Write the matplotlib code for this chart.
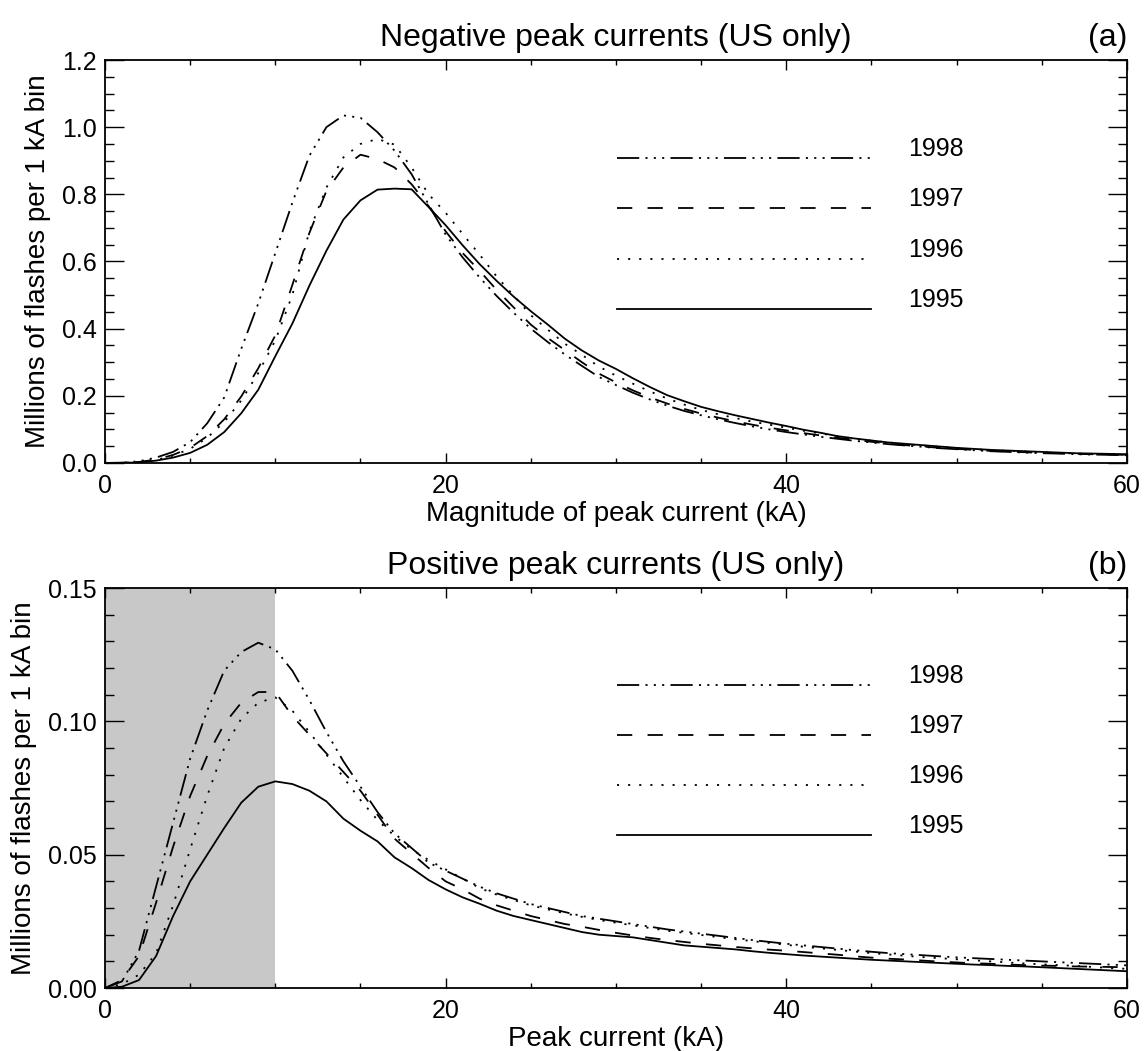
import matplotlib
matplotlib.use("Agg")
import matplotlib.pyplot as plt
import numpy as np

plt.rcParams['font.family'] = ['Liberation Sans', 'DejaVu Sans']
plt.rcParams['lines.scale_dashes'] = False

kA = np.arange(0, 61)
years = ['1998', '1997', '1996', '1995']

# negative peak currents, millions of flashes per 1 kA bin
neg_1995 = [0, 0, 0.002, 0.007, 0.016, 0.030, 0.054, 0.092, 0.148, 0.218,
            0.318, 0.415, 0.528, 0.632, 0.725, 0.782, 0.814, 0.817, 0.815, 0.762,
            0.708, 0.648, 0.592, 0.542, 0.495, 0.452, 0.412, 0.370, 0.335, 0.305,
            0.280, 0.252, 0.226, 0.202, 0.184, 0.167, 0.154, 0.142, 0.131, 0.120,
            0.110, 0.099, 0.090, 0.080, 0.073, 0.067, 0.061, 0.057, 0.053, 0.049,
            0.045, 0.042, 0.039, 0.037, 0.035, 0.033, 0.031, 0.029, 0.028, 0.027,
            0.026]
neg_1996 = [0, 0, 0.003, 0.009, 0.022, 0.042, 0.075, 0.122, 0.186, 0.268,
            0.365, 0.500, 0.690, 0.820, 0.910, 0.950, 0.965, 0.948, 0.880, 0.800,
            0.745, 0.682, 0.620, 0.555, 0.498, 0.440, 0.397, 0.355, 0.322, 0.287,
            0.260, 0.236, 0.213, 0.192, 0.174, 0.158, 0.145, 0.134, 0.123, 0.114,
            0.105, 0.096, 0.088, 0.080, 0.072, 0.066, 0.061, 0.056, 0.052, 0.048,
            0.044, 0.041, 0.038, 0.036, 0.034, 0.032, 0.030, 0.028, 0.027, 0.026,
            0.025]
neg_1997 = [0, 0, 0.003, 0.010, 0.024, 0.045, 0.080, 0.130, 0.198, 0.282,
            0.380, 0.530, 0.685, 0.810, 0.880, 0.918, 0.905, 0.880, 0.830, 0.765,
            0.690, 0.625, 0.572, 0.515, 0.463, 0.412, 0.372, 0.336, 0.300, 0.266,
            0.240, 0.216, 0.195, 0.177, 0.161, 0.147, 0.135, 0.124, 0.114, 0.105,
            0.097, 0.089, 0.082, 0.075, 0.069, 0.063, 0.058, 0.053, 0.049, 0.045,
            0.042, 0.039, 0.036, 0.034, 0.032, 0.030, 0.029, 0.027, 0.026, 0.025,
            0.024]
neg_1998 = [0, 0.001, 0.005, 0.016, 0.033, 0.062, 0.118, 0.195, 0.340, 0.475,
            0.625, 0.775, 0.915, 1.000, 1.035, 1.028, 0.985, 0.930, 0.860, 0.770,
            0.680, 0.612, 0.552, 0.497, 0.447, 0.400, 0.360, 0.323, 0.289, 0.256,
            0.232, 0.209, 0.189, 0.171, 0.155, 0.142, 0.130, 0.119, 0.109, 0.100,
            0.092, 0.085, 0.078, 0.072, 0.066, 0.061, 0.056, 0.052, 0.048, 0.044,
            0.041, 0.038, 0.035, 0.033, 0.031, 0.029, 0.028, 0.026, 0.025, 0.024,
            0.023]

# positive peak currents
pos_1995 = [0, 0.0005, 0.003, 0.012, 0.027, 0.040, 0.050, 0.060, 0.0695, 0.0755,
            0.0775, 0.0765, 0.074, 0.070, 0.0635, 0.059, 0.055, 0.049, 0.045, 0.0405,
            0.037, 0.034, 0.0316, 0.029, 0.027, 0.0255, 0.024, 0.0225, 0.021, 0.020,
            0.0195, 0.019, 0.018, 0.017, 0.016, 0.0155, 0.015, 0.0145, 0.0138, 0.0132,
            0.0127, 0.0122, 0.0118, 0.0114, 0.011, 0.0106, 0.0103, 0.010, 0.0097, 0.0094,
            0.0091, 0.0088, 0.0086, 0.0083, 0.0081, 0.0078, 0.0075, 0.0072, 0.0069, 0.0066,
            0.0063]
pos_1996 = [0, 0.0015, 0.005, 0.013, 0.031, 0.052, 0.072, 0.090, 0.101, 0.107,
            0.109, 0.104, 0.096, 0.0875, 0.079, 0.0705, 0.063, 0.057, 0.052, 0.048,
            0.0445, 0.041, 0.0375, 0.035, 0.033, 0.031, 0.0295, 0.028, 0.0267, 0.0255,
            0.0245, 0.0235, 0.0225, 0.0215, 0.0207, 0.0199, 0.0191, 0.0183, 0.0176, 0.0169,
            0.0162, 0.0155, 0.0149, 0.0143, 0.0137, 0.0131, 0.0126, 0.0121, 0.0116, 0.0112,
            0.0108, 0.0104, 0.0100, 0.0096, 0.0092, 0.0089, 0.0086, 0.0083, 0.0079, 0.0075,
            0.0072]
pos_1997 = [0, 0.003, 0.012, 0.032, 0.053, 0.072, 0.087, 0.099, 0.107, 0.111,
            0.111, 0.102, 0.095, 0.088, 0.081, 0.074, 0.065, 0.056, 0.0505, 0.045,
            0.040, 0.037, 0.0335, 0.031, 0.029, 0.027, 0.0255, 0.024, 0.023, 0.0218,
            0.0207, 0.0197, 0.0188, 0.018, 0.0173, 0.0166, 0.016, 0.0154, 0.0149, 0.0144,
            0.014, 0.0135, 0.013, 0.0125, 0.0119, 0.0114, 0.011, 0.0107, 0.0103, 0.0099,
            0.0096, 0.0093, 0.0091, 0.0088, 0.0086, 0.0084, 0.0083, 0.0081, 0.008, 0.0079,
            0.0078]
pos_1998 = [0, 0.0025, 0.014, 0.038, 0.062, 0.086, 0.104, 0.119, 0.126, 0.1295,
            0.127, 0.119, 0.108, 0.096, 0.085, 0.0755, 0.066, 0.058, 0.0525, 0.047,
            0.044, 0.041, 0.038, 0.0355, 0.0335, 0.0315, 0.030, 0.0285, 0.027, 0.026,
            0.025, 0.024, 0.023, 0.022, 0.0212, 0.0204, 0.0196, 0.0188, 0.018, 0.0173,
            0.0166, 0.016, 0.0154, 0.0148, 0.0142, 0.0136, 0.0131, 0.0127, 0.0123, 0.0119,
            0.0115, 0.0112, 0.0109, 0.0106, 0.0103, 0.010, 0.0097, 0.0094, 0.0091, 0.0088,
            0.0085]

dash_styles = {
    '1998': (0, (16, 4.5, 1.5, 4.5, 1.5, 4.5, 1.5, 4.5)),
    '1997': (0, (11, 11)),
    '1996': (0, (1.5, 6.5)),
    '1995': 'solid',
}

fig = plt.figure(figsize=(11.46, 10.51), dpi=100)
ax1 = fig.add_axes([0.0916, 0.5595, 0.8918, 0.3834])
ax2 = fig.add_axes([0.0916, 0.0599, 0.8918, 0.3806])

ax2.axvspan(0, 10, color='#c8c8c8', lw=0, zorder=0)

neg = {'1995': neg_1995, '1996': neg_1996, '1997': neg_1997, '1998': neg_1998}
pos = {'1995': pos_1995, '1996': pos_1996, '1997': pos_1997, '1998': pos_1998}

for ax, data in [(ax1, neg), (ax2, pos)]:
    for yr in years:
        ax.plot(kA, data[yr], color='black', lw=1.3, linestyle=dash_styles[yr])
    # legend drawn IDL style
    for i, yr in enumerate(years):
        yy = 0.757 - i * 0.125
        ax.plot([0.501, 0.750], [yy, yy], transform=ax.transAxes,
                color='black', lw=1.3, linestyle=dash_styles[yr])
        ax.text(0.786, yy + 0.022, yr, transform=ax.transAxes,
                fontsize=18, va='center', ha='left')

ax1.set_xlim(0, 60)
ax1.set_ylim(0, 1.2)
ax1.set_xticks([0, 20, 40, 60])
ax1.set_xticks(np.arange(0, 61, 5), minor=True)
ax1.set_yticks(np.arange(0, 1.21, 0.2))
ax1.set_yticks(np.arange(0, 1.21, 0.05), minor=True)
ax1.set_yticklabels(['0.0', '0.2', '0.4', '0.6', '0.8', '1.0', '1.2'])
ax1.set_xlabel('Magnitude of peak current (kA)', fontsize=20, labelpad=2)
ax1.set_title('Negative peak currents (US only)', fontsize=23, pad=10)
ax1.set_title('(a)', fontsize=23, pad=10, loc='right')

ax2.set_xlim(0, 60)
ax2.set_ylim(0, 0.15)
ax2.set_xticks([0, 20, 40, 60])
ax2.set_xticks(np.arange(0, 61, 5), minor=True)
ax2.set_yticks([0, 0.05, 0.10, 0.15])
ax2.set_yticks(np.arange(0, 0.151, 0.01), minor=True)
ax2.set_yticklabels(['0.00', '0.05', '0.10', '0.15'])
ax2.set_xlabel('Peak current (kA)', fontsize=20, labelpad=2)
ax2.set_title('Positive peak currents (US only)', fontsize=23, pad=10)
ax2.set_title('(b)', fontsize=23, pad=10, loc='right')

for ax in (ax1, ax2):
    ax.set_ylabel('Millions of flashes per 1 kA bin', fontsize=20, labelpad=8)
    ax.tick_params(axis='both', which='both', direction='in', top=True, right=True,
                   labelsize=18, width=1.0)
    ax.tick_params(axis='x', which='major', length=7.2, pad=8)
    ax.tick_params(axis='x', which='minor', length=3.6)
    ax.tick_params(axis='y', which='major', length=14, pad=6)
    ax.tick_params(axis='y', which='minor', length=6.5)
    for sp in ax.spines.values():
        sp.set_linewidth(1.3)

fig.savefig('out.png', dpi=100)
